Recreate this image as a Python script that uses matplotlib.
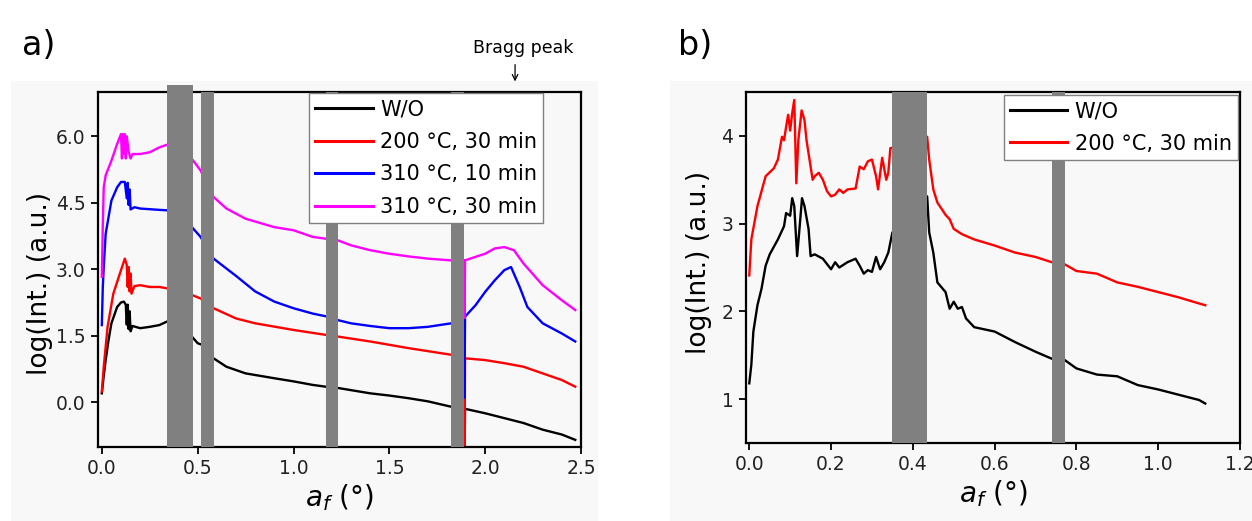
import matplotlib
matplotlib.use("Agg")
import matplotlib.pyplot as plt
from matplotlib.patches import Rectangle

# ---- panel a data (x in deg, log intensity) ----
a_wo_x = [0.0, 0.01, 0.02, 0.035, 0.05, 0.08, 0.1, 0.115, 0.125, 0.13, 0.135, 0.14, 0.145, 0.15, 0.16,
          0.2, 0.25, 0.3, 0.34, 0.4, 0.466, 0.468, 0.47, 0.5, 0.52, 0.583, 0.65, 0.75, 0.9, 1.0, 1.1,
          1.167, 1.233, 1.4, 1.5, 1.6, 1.7, 1.82, 1.889, 1.892, 1.895, 2.0, 2.1, 2.2, 2.3, 2.4, 2.47]
a_wo_y = [0.2, 0.6, 0.95, 1.4, 1.78, 2.15, 2.25, 2.27, 2.2, 1.75, 2.2, 1.65, 2.05, 1.6, 1.72,
          1.67, 1.7, 1.74, 1.82, 1.75, 1.55, 1.0, 1.48, 1.33, 1.3, 0.99, 0.8, 0.65, 0.54, 0.47, 0.39,
          0.35, 0.32, 0.2, 0.15, 0.09, 0.02, -0.1, -0.15, -1.5, -0.15, -0.25, -0.36, -0.47, -0.62, -0.73, -0.85]

a_200_x = [0.0, 0.01, 0.03, 0.06, 0.1, 0.12, 0.13, 0.135, 0.14, 0.145, 0.15, 0.155, 0.17,
           0.2, 0.25, 0.3, 0.34, 0.4, 0.466, 0.468, 0.47, 0.515, 0.583, 0.7, 0.8, 1.0, 1.167,
           1.233, 1.4, 1.6, 1.823, 1.889, 1.892, 1.895, 2.0, 2.1, 2.2, 2.3, 2.4, 2.47]
a_200_y = [0.24, 0.8, 1.7, 2.45, 2.98, 3.24, 3.1, 2.6, 3.05, 2.5, 2.9, 2.45, 2.62,
           2.64, 2.6, 2.6, 2.57, 2.5, 2.45, 0.0, 2.42, 2.34, 2.12, 1.89, 1.78, 1.63, 1.52,
           1.48, 1.37, 1.22, 1.07, 1.0, -1.5, 0.99, 0.95, 0.88, 0.8, 0.65, 0.5, 0.35]

a_310_10_x = [0.0, 0.005, 0.01, 0.02, 0.05, 0.08, 0.1, 0.12, 0.13, 0.135, 0.14, 0.145, 0.15, 0.17,
              0.2, 0.3, 0.34, 0.4, 0.466, 0.468, 0.47, 0.515, 0.583, 0.7, 0.8, 0.9, 1.0, 1.1,
              1.167, 1.233, 1.3, 1.4, 1.5, 1.6, 1.7, 1.823, 1.889, 1.892, 1.895, 1.95, 2.0, 2.05,
              2.1, 2.135, 2.18, 2.22, 2.3, 2.4, 2.47]
a_310_10_y = [1.74, 2.6, 3.05, 3.8, 4.55, 4.85, 4.97, 4.97, 4.6, 4.95, 4.45, 4.8, 4.35, 4.4,
              4.37, 4.34, 4.33, 4.2, 4.0, 2.5, 3.95, 3.73, 3.24, 2.85, 2.5, 2.27, 2.12, 2.0,
              1.94, 1.85, 1.78, 1.72, 1.67, 1.67, 1.7, 1.78, 1.85, 0.1, 1.93, 2.19, 2.49, 2.75,
              2.98, 3.05, 2.6, 2.15, 1.78, 1.55, 1.37]

a_310_30_x = [0.0, 0.005, 0.01, 0.02, 0.05, 0.08, 0.1, 0.105, 0.11, 0.115, 0.12, 0.125, 0.13,
              0.14, 0.15, 0.16, 0.2, 0.25, 0.3, 0.34, 0.4, 0.466, 0.468, 0.47, 0.515, 0.583,
              0.65, 0.75, 0.9, 1.0, 1.1, 1.167, 1.233, 1.3, 1.4, 1.5, 1.6, 1.7, 1.823, 1.889,
              1.892, 1.895, 1.95, 2.0, 2.05, 2.1, 2.15, 2.2, 2.3, 2.4, 2.47]
a_310_30_y = [2.83, 4.0, 4.85, 5.12, 5.45, 5.83, 6.05, 5.5, 6.05, 5.6, 6.05, 5.5, 6.0,
              5.65, 5.5, 5.6, 5.6, 5.64, 5.75, 5.81, 5.7, 5.55, 3.9, 5.49, 5.23, 4.63,
              4.37, 4.14, 3.95, 3.88, 3.73, 3.69, 3.65, 3.54, 3.43, 3.35, 3.29, 3.24, 3.2, 3.2,
              1.9, 3.2, 3.28, 3.35, 3.47, 3.5, 3.43, 3.13, 2.64, 2.3, 2.08]

# ---- panel b data ----
b_wo_x = [0.0, 0.005, 0.01, 0.02, 0.03, 0.04, 0.05, 0.07, 0.085, 0.09, 0.1, 0.105, 0.11, 0.117,
          0.122, 0.129, 0.135, 0.145, 0.15, 0.16, 0.18, 0.2, 0.21, 0.22, 0.24, 0.26, 0.27, 0.28,
          0.29, 0.3, 0.31, 0.32, 0.33, 0.34, 0.35, 0.4, 0.435, 0.44, 0.45, 0.46, 0.48, 0.49, 0.5,
          0.51, 0.52, 0.53, 0.55, 0.6, 0.65, 0.7, 0.74, 0.77, 0.8, 0.85, 0.9, 0.95, 1.0, 1.05,
          1.1, 1.115]
b_wo_y = [1.18, 1.39, 1.77, 2.07, 2.26, 2.52, 2.65, 2.82, 2.97, 3.12, 3.09, 3.29, 3.2, 2.63,
          2.9, 3.29, 3.2, 2.94, 2.63, 2.65, 2.6, 2.48, 2.56, 2.5, 2.56, 2.6, 2.52, 2.43,
          2.47, 2.45, 2.62, 2.48, 2.56, 2.67, 2.9, 3.1, 3.31, 2.9, 2.67, 2.33, 2.22, 2.03, 2.11,
          2.03, 2.05, 1.92, 1.82, 1.77, 1.65, 1.54, 1.46, 1.45, 1.35, 1.28, 1.26, 1.16, 1.11, 1.05,
          0.99, 0.95]

b_200_x = [0.0, 0.005, 0.02, 0.04, 0.06, 0.07, 0.08, 0.085, 0.09, 0.095, 0.1, 0.105, 0.11,
           0.115, 0.12, 0.128, 0.135, 0.14, 0.15, 0.155, 0.16, 0.17, 0.18, 0.19, 0.2, 0.21,
           0.22, 0.23, 0.24, 0.26, 0.27, 0.28, 0.29, 0.3, 0.31, 0.315, 0.325, 0.335, 0.34,
           0.345, 0.4, 0.435, 0.44, 0.45, 0.46, 0.48, 0.49, 0.5, 0.52, 0.55, 0.6, 0.65, 0.7,
           0.74, 0.77, 0.8, 0.85, 0.9, 0.95, 1.0, 1.05, 1.1, 1.115]
b_200_y = [2.41, 2.82, 3.2, 3.54, 3.63, 3.73, 3.99, 3.95, 4.1, 4.24, 4.06, 4.26, 4.41,
           3.46, 3.95, 4.29, 4.18, 3.95, 3.65, 3.5, 3.54, 3.58, 3.5, 3.37, 3.31, 3.33,
           3.39, 3.35, 3.39, 3.4, 3.65, 3.62, 3.71, 3.73, 3.54, 3.39, 3.75, 3.5, 3.58,
           3.86, 3.9, 3.99, 3.73, 3.39, 3.24, 3.1, 3.05, 2.94, 2.88, 2.82, 2.75, 2.67, 2.62,
           2.56, 2.54, 2.46, 2.43, 2.33, 2.28, 2.22, 2.16, 2.09, 2.07]

# ---- masked detector gaps ----
a_gaps = [(0.34, 0.475), (0.515, 0.583), (1.167, 1.233), (1.823, 1.892)]
b_gaps = [(0.348, 0.435), (0.74, 0.771)]

a_series = [("W/O", a_wo_x, a_wo_y, "black"),
            ("200 °C, 30 min", a_200_x, a_200_y, "#ff0000"),
            ("310 °C, 10 min", a_310_10_x, a_310_10_y, "#0000ff"),
            ("310 °C, 30 min", a_310_30_x, a_310_30_y, "#ff00ff")]
b_series = [("W/O", b_wo_x, b_wo_y, "black"),
            ("200 °C, 30 min", b_200_x, b_200_y, "#ff0000")]

plt.rcParams["font.family"] = ["DejaVu Sans"]
plt.rcParams["mathtext.fontset"] = "dejavusans"

fig = plt.figure(figsize=(12.52, 5.21), dpi=100)
bg = "#f8f8f8"
fig.patches.append(Rectangle((11 / 1252, 0), (598 - 11) / 1252, 1 - 81 / 521,
                             transform=fig.transFigure, facecolor=bg, edgecolor="none", zorder=-10))
fig.patches.append(Rectangle((670 / 1252, 0), (1252 - 670) / 1252, 1 - 81 / 521,
                             transform=fig.transFigure, facecolor=bg, edgecolor="none", zorder=-10))

ax1 = fig.add_axes([98 / 1252, 1 - 446.5 / 521, (581 - 98) / 1252, (446.5 - 92) / 521])
ax2 = fig.add_axes([746 / 1252, 1 - 443 / 521, (1240 - 746) / 1252, (443 - 92) / 521])
ax1.set_zorder(2)
ax2.set_zorder(2)


def style_axes(ax, ylab_x, ylab_y):
    ax.set_facecolor(bg)
    for s in ax.spines.values():
        s.set_linewidth(1.6)
        s.set_color("black")
    ax.tick_params(direction="out", length=5, width=1.3, labelsize=13.5,
                   labelcolor="#222222", pad=4)
    ax.set_xlabel(r"$a_f$ (°)", fontsize=20, labelpad=3)
    ax.set_ylabel("log(Int.) (a.u.)", fontsize=19)
    ax.yaxis.set_label_coords(ylab_x, ylab_y)


def add_legend(ax, anchor):
    leg = ax.legend(loc="upper right", bbox_to_anchor=anchor, borderaxespad=0,
                    fontsize=15, handlelength=2.75, handletextpad=0.35, labelspacing=0.6,
                    borderpad=0.3, fancybox=False, framealpha=1, edgecolor="#808080")
    leg.set_zorder(10)
    leg.get_frame().set_linewidth(1.0)
    for h in leg.get_lines():
        h.set_linewidth(2.2)


for label, x, y, c in a_series:
    ax1.plot(x, y, color=c, lw=1.7, label=label)
for i, (lo, hi) in enumerate(a_gaps):
    ax1.axvspan(lo, hi, ymin=0, ymax=1.02 if i == 0 else 1, color="#808080",
                lw=0, zorder=5, clip_on=(i != 0))
ax1.set_xlim(-0.02, 2.5)
ax1.set_ylim(-1.0, 7.0)
ax1.set_xticks([0.0, 0.5, 1.0, 1.5, 2.0, 2.5])
ax1.set_yticks([0.0, 1.5, 3.0, 4.5, 6.0])
ax1.xaxis.set_major_formatter(matplotlib.ticker.FormatStrFormatter("%.1f"))
ax1.yaxis.set_major_formatter(matplotlib.ticker.FormatStrFormatter("%.1f"))
style_axes(ax1, -0.094, 0.46)
add_legend(ax1, (0.922, 0.997))
ax1.annotate("", xy=(2.156, 1.022), xytext=(2.156, 1.085),
             xycoords=("data", "axes fraction"), textcoords=("data", "axes fraction"),
             arrowprops=dict(arrowstyle="->", color="black", lw=0.9))
ax1.text(2.2, 1.1, "Bragg peak", transform=ax1.get_xaxis_transform(),
         ha="center", va="bottom", fontsize=12.5)

for label, x, y, c in b_series:
    ax2.plot(x, y, color=c, lw=1.7, label=label)
for lo, hi in b_gaps:
    ax2.axvspan(lo, hi, color="#808080", lw=0, zorder=5)
ax2.set_xlim(-0.008, 1.2)
ax2.set_ylim(0.5, 4.5)
ax2.set_xticks([0.0, 0.2, 0.4, 0.6, 0.8, 1.0, 1.2])
ax2.set_yticks([1, 2, 3, 4])
ax2.xaxis.set_major_formatter(matplotlib.ticker.FormatStrFormatter("%.1f"))
style_axes(ax2, -0.068, 0.515)
add_legend(ax2, (0.996, 0.992))

fig.text(22 / 1252, 1 - 55 / 521, "a)", fontsize=24)
fig.text(678 / 1252, 1 - 55 / 521, "b)", fontsize=24)

fig.savefig("out.png", dpi=100)
